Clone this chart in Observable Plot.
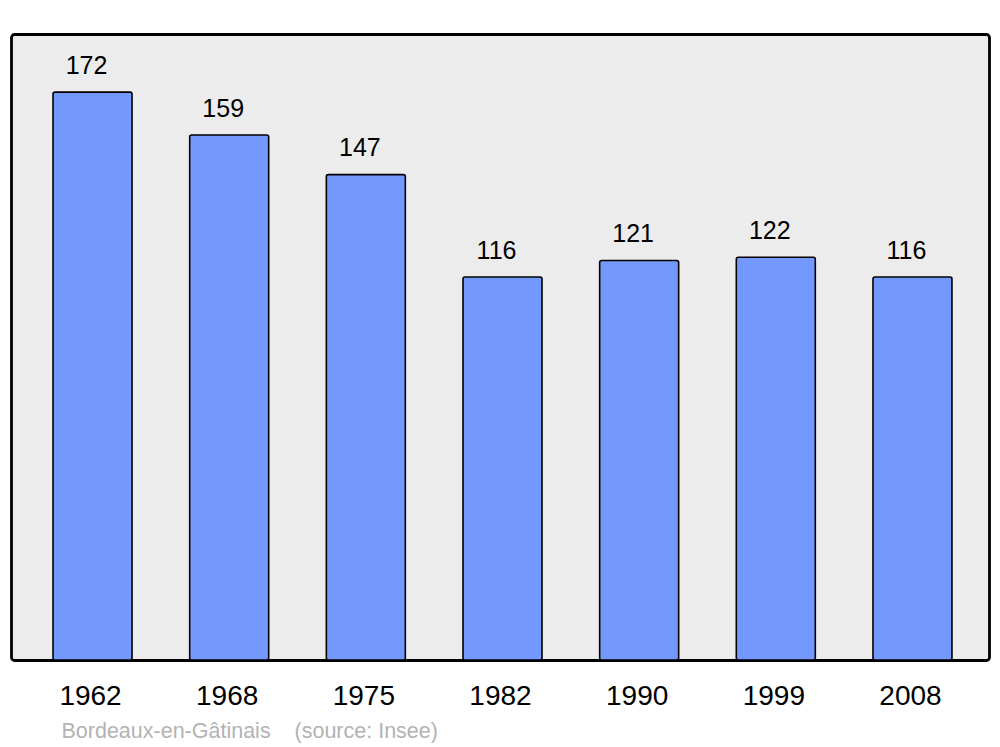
<!DOCTYPE html>
<html>
<head>
<meta charset="utf-8">
<script src="https://cdn.jsdelivr.net/npm/d3@7"></script>
<script src="https://cdn.jsdelivr.net/npm/@observablehq/plot@0.6"></script>
<style>
  body { margin: 0; background: #ffffff; }
  #chart svg { display: block; font-family: "Liberation Sans", Arial, sans-serif; }
</style>
</head>
<body>
<div id="chart"></div>
<script>
const years = ["1962", "1968", "1975", "1982", "1990", "1999", "2008"];
const population = [172, 159, 147, 116, 121, 122, 116];
const captionText = ["Bordeaux-en-Gâtinais\u00a0\u00a0\u00a0\u00a0(source: Insee)"];

const data = years.map((y, i) => ({year: y, pop: population[i]}));

const chart = Plot.plot({
  width: 1000,
  height: 747,
  marginLeft: 11,
  marginRight: 11,
  marginTop: 34,
  marginBottom: 87,
  style: {fontFamily: '"Liberation Sans", Arial, sans-serif', background: "#ffffff"},
  x: {domain: years, range: [25.7, 979.3], paddingInner: 0.422, paddingOuter: 0.2, round: false, label: null},
  y: {domain: [0, 189.6], axis: null},
  marks: [
    Plot.frame({fill: "#ececec", stroke: "#000000", strokeWidth: 2.8, rx: 3}),
    Plot.barY(data, {x: "year", y: "pop", fill: "#7399ff", stroke: "#000000", strokeWidth: 1.6, rx: 2}),
    Plot.text(data, {x: "year", y: "pop", text: d => String(d.pop), lineAnchor: "bottom", dy: -19, dx: -6.5, fontSize: 25, fill: "#000000"}),
    Plot.axisX({tickSize: 0, tickPadding: 25, fontSize: 28, dx: -2.5, color: "#000000", label: null}),
    Plot.text(captionText, {frameAnchor: "bottom-left", text: d => d, textAnchor: "start", lineAnchor: "bottom", dx: 50, dy: 77, fontSize: 21.5, fill: "#b3b3b3"})
  ]
});
document.getElementById("chart").appendChild(chart);
</script>
</body>
</html>
